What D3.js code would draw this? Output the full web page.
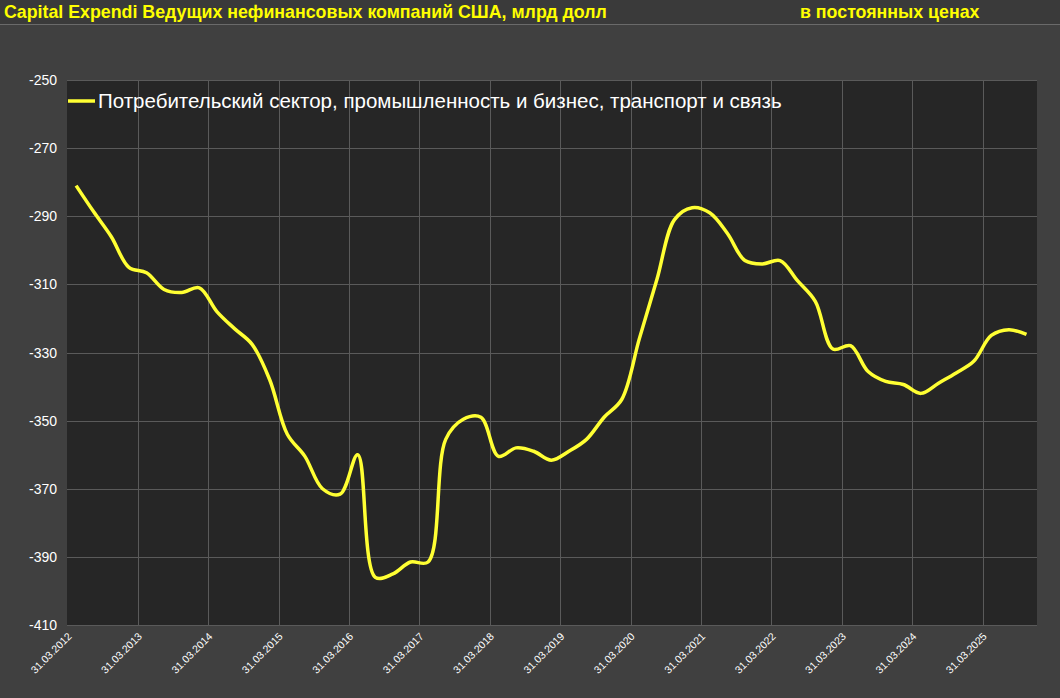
<!DOCTYPE html>
<html><head><meta charset="utf-8">
<script src="https://cdn.jsdelivr.net/npm/d3@7"></script>
<style>body{margin:0;background:#404040}svg{display:block}</style>
</head><body><svg id="c" width="1060" height="698"></svg>
<script>
// quarterly values, 31.03.2012 .. 30.09.2025
var values = [-281,-288.7,-296,-305, -306.6,-311.5,-312.4,-311, -318,-323,-327.6,-338,
  -354,-360.5,-370,-371.6, -360,-396,-395,-391.5, -391.5,-355.5,-349.6,-349,
  -360.5,-358,-359,-361.6, -359,-355.5,-349, -343.8,-326,-308.6,-291,
  -287.5,-289,-295,-303, -304,-303,-309,-315, -329,-328,-335.6,-338.5,
  -339.4,-342,-339,-336, -332.6,-325,-323.3,-324.7]
var years = d3.range(2012, 2026)
var yTicks = d3.range(-250, -411, -20)
var seriesName = 'Потребительский сектор, промышленность и бизнес, транспорт и связь'

var svg = d3.select('#c')
svg.append('rect').attr('width', 1060).attr('height', 698).attr('fill', '#404040')
svg.append('rect').attr('width', 1060).attr('height', 24).attr('fill', '#3a3a3a')
svg.append('line').attr('x1', 0).attr('x2', 1060).attr('y1', 24.5).attr('y2', 24.5).attr('stroke', '#6a6a6a')

var L = 67, R = 1037, T = 80, B = 625
svg.append('rect').attr('x', L).attr('y', T).attr('width', R - L).attr('height', B - T).attr('fill', '#262626')

// category axis: one band per quarter, year ticks every 4 quarters
var xg = d3.scaleLinear().domain([0, 1]).range([67.3, 137.7])
var x = function(i) { return xg((i + 0.5) / 4) }
var y = d3.scaleLinear().domain([-250, -410]).range([T, B])

var g = svg.append('g')
g.selectAll('.hg').data(yTicks).enter().append('line')
  .attr('x1', L).attr('x2', R).attr('y1', function(d) { return Math.round(y(d)) + .5 }).attr('y2', function(d) { return Math.round(y(d)) + .5 })
  .attr('stroke', '#5a5a5a')
g.selectAll('.vg').data(years.slice(1)).enter().append('line')
  .attr('x1', function(d, i) { return Math.round(xg(i + 1)) + .5 }).attr('x2', function(d, i) { return Math.round(xg(i + 1)) + .5 })
  .attr('y1', T).attr('y2', B).attr('stroke', '#5a5a5a')

g.selectAll('.yl').data(yTicks).enter().append('text')
  .attr('x', 57).attr('y', function(d) { return y(d) + 5 }).attr('text-anchor', 'end')
  .attr('fill', '#fff').attr('font-family', 'Liberation Sans, Arial').attr('font-size', 14)
  .text(function(d) { return d })

g.selectAll('.xl').data(years).enter().append('text')
  .attr('transform', function(d, i) { return 'translate(' + (xg(i) + 5) + ',' + (B + 12) + ') rotate(-45)' })
  .attr('text-anchor', 'end').attr('fill', '#fff').attr('font-family', 'Liberation Sans, Arial').attr('font-size', 10.5)
  .text(function(d) { return '31.03.' + d })

var line = d3.line().x(function(d, i) { return x(i) }).y(function(d) { return y(d) }).curve(d3.curveCatmullRom.alpha(0.5))
svg.append('path').datum(values).attr('d', line).attr('fill', 'none')
  .attr('stroke', '#ffff33').attr('stroke-width', 3.5).attr('stroke-linejoin', 'round')

svg.append('line').attr('x1', 68).attr('x2', 95).attr('y1', 101).attr('y2', 101).attr('stroke', '#ffff33').attr('stroke-width', 3.5)
svg.append('text').attr('x', 98).attr('y', 108).attr('fill', '#fff').attr('font-family', 'Liberation Sans, Arial')
  .attr('font-size', 20.5).text(seriesName)

svg.append('text').attr('x', 4).attr('y', 18).attr('fill', '#ffff00').attr('font-weight', 'bold')
  .attr('font-family', 'Liberation Sans, Arial').attr('font-size', 17.8)
  .text('Capital Expendi Ведущих нефинансовых компаний США, млрд долл')
svg.append('text').attr('x', 800).attr('y', 18).attr('fill', '#ffff00').attr('font-weight', 'bold')
  .attr('font-family', 'Liberation Sans, Arial').attr('font-size', 17.8).text('в постоянных ценах')
</script></body></html>
